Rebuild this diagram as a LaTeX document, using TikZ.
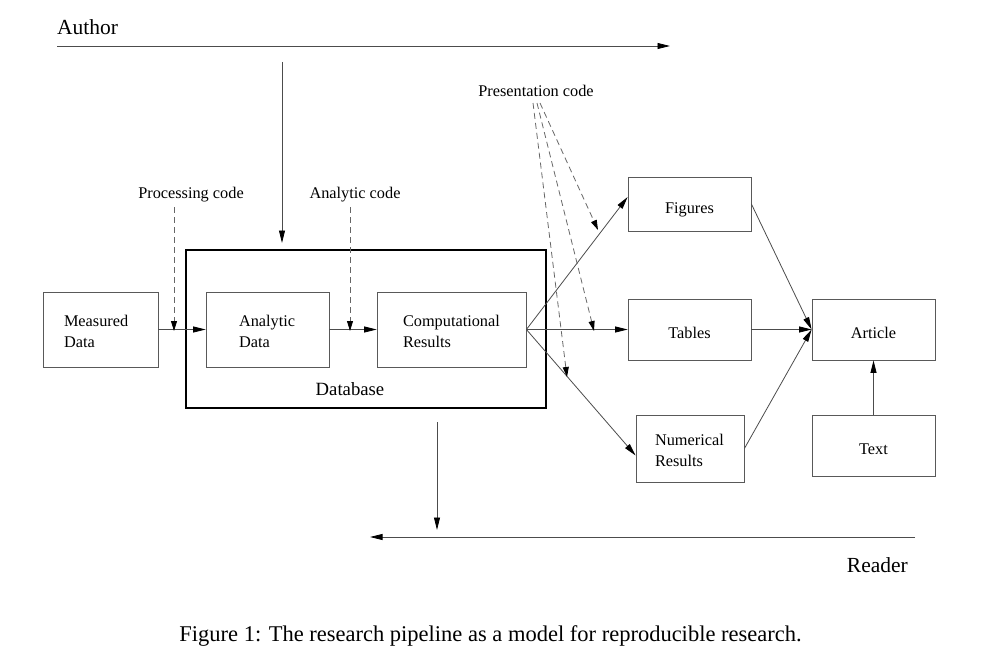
\documentclass[tikz,border=0pt]{standalone}
\usepackage{fontspec}
\setmainfont{Liberation Serif}
\usetikzlibrary{arrows.meta}
\begin{document}
\begin{tikzpicture}[x=1pt,y=-1pt,
  lbl/.style={inner sep=0pt,font=\fontsize{16.3}{21}\selectfont},
  big/.style={inner sep=0pt,font=\fontsize{21.5}{26}\selectfont},
  box/.style={draw=black!65,line width=0.8pt,inner sep=0pt,font=\fontsize{16.3}{21}\selectfont},
  sbox/.style={box,text height=18pt,text depth=0pt},
  lbox/.style={box,align=left,text height=17.5pt,text depth=24.5pt},
  conn/.style={draw=black!70,line width=0.8pt,-{Triangle[length=12.5pt,width=6pt,color=black]}},
  dconn/.style={draw=black!60,line width=0.8pt,dash pattern=on 6pt off 4pt,-{Triangle[length=10pt,width=6pt,color=black]}}]
\useasboundingbox (0,0) rectangle (1006,669);

% Author / Reader
\node[big,anchor=west] (author) at (57,27) {Author};
\coordinate (a0) at (57,46);
\coordinate (a1) at (670,46);
\draw[conn] (a0) -- (a1);
\coordinate (av0) at (282,62);
\coordinate (av1) at (282,243);
\draw[conn] (av0) -- (av1);

\node[big,anchor=east] (reader) at (908,565) {Reader};
\coordinate (r0) at (915,537);
\coordinate (r1) at (370,537);
\draw[conn] (r0) -- (r1);
\coordinate (rv0) at (437,422);
\coordinate (rv1) at (437,530);
\draw[conn] (rv0) -- (rv1);

% Database
\node[draw=black,line width=2.6pt,minimum width=360pt,minimum height=158pt,inner sep=0pt] (db) at (366,329) {};
\node[inner sep=0pt,font=\fontsize{18.7}{22}\selectfont] (dblabel) at (350,389) {Database};

% Boxes
\node[lbox,minimum width=115pt,minimum height=75pt,text width=73pt,inner xsep=21pt] (md) at (100.5,329.5) {Measured\\Data};
\node[lbox,minimum width=123pt,minimum height=75pt,text width=57pt,inner xsep=33pt] (ad) at (267.5,329.5) {Analytic\\Data};
\node[lbox,minimum width=149pt,minimum height=75pt,text width=97pt,inner xsep=26pt] (cr) at (451.5,329.5) {Computational\\Results};
\node[sbox,minimum width=123pt,minimum height=54pt] (fig) at (689.5,204) {Figures};
\node[sbox,minimum width=123pt,minimum height=61pt] (tab) at (689.5,329.5) {Tables};
\node[lbox,minimum width=108pt,minimum height=67pt,text width=70pt,inner xsep=19pt] (num) at (690,448.5) {Numerical\\Results};
\node[sbox,minimum width=123pt,minimum height=61pt] (art) at (873.5,329.5) {Article};
\node[sbox,minimum width=123pt,minimum height=61pt] (txt) at (873.5,445.5) {Text};

% Solid connectors
\draw[conn] (md.east) -- (ad.west);
\draw[conn] (ad.east) -- (cr.west);
\draw[conn] (cr.east) -- ([yshift=7pt]fig.west);
\draw[conn] (cr.east) -- (tab.west);
\draw[conn] (cr.east) -- ([yshift=-7pt]num.west);
\draw[conn] (fig.east) -- (art.west);
\draw[conn] (tab.east) -- (art.west);
\draw[conn] (num.east) -- (art.west);
\draw[conn] (txt.north) -- (art.south);

% Code labels and dashed arrows
\node[lbl] (pc) at (191,195) {Processing code};
\node[lbl] (ac) at (355,195) {Analytic code};
\node[lbl] (prc) at (536,91) {Presentation code};

\coordinate (pc0) at (174,207);
\coordinate (pc1) at (174,331);
\draw[dconn] (pc0) -- (pc1);
\coordinate (ac0) at (350,207);
\coordinate (ac1) at (350,331);
\draw[dconn] (ac0) -- (ac1);

\coordinate (p1) at (533,103);
\coordinate (p2) at (537,103);
\coordinate (p3) at (540,103);
\coordinate (q1) at (567,377);
\coordinate (q2) at (594,331);
\coordinate (q3) at (598,230);
\draw[dconn] (p1) -- (q1);
\draw[dconn] (p2) -- (q2);
\draw[dconn] (p3) -- (q3);

% Caption
\node[inner sep=0pt,font=\fontsize{22.5}{26}\selectfont] (cap) at (490.5,636) {Figure 1: The research pipeline as a model for reproducible research.};
\end{tikzpicture}
\end{document}
